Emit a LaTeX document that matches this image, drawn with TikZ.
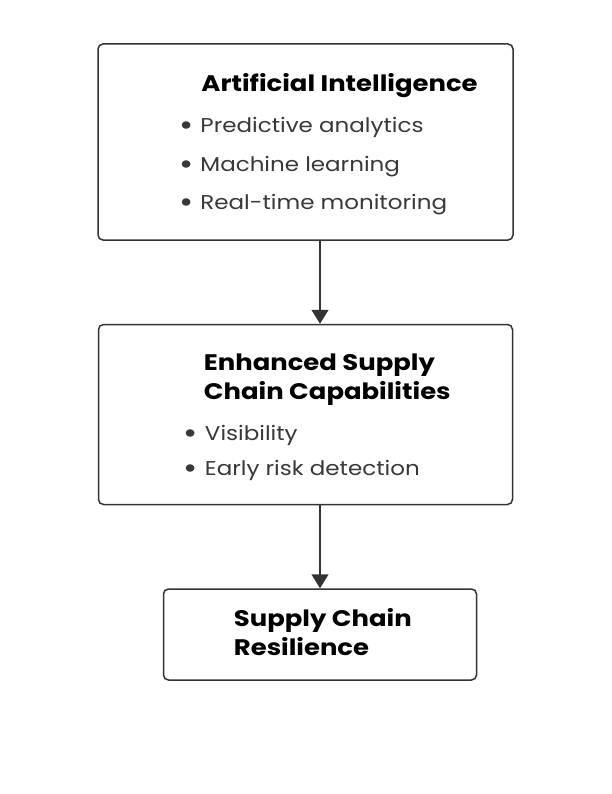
\documentclass[tikz,border=0pt]{standalone}
\usepackage{fontspec}
\setmainfont{Poppins}[FakeStretch=1.15]
\usepackage{tikz}
\usetikzlibrary{positioning, arrows.meta}
\definecolor{edgegrey}{HTML}{333333}
\definecolor{itemgrey}{HTML}{383838}
\newcommand{\itemdot}{\makebox[21pt][l]{\fontsize{30}{30}\selectfont\raisebox{-3pt}{•}}}

\begin{document}
\begin{tikzpicture}[x=1pt, y=1pt,
    box/.style={draw=edgegrey, line width=1.5pt, rounded corners=5pt, fill=white, inner sep=0pt},
    head/.style={anchor=base west, inner sep=0pt, font=\fontsize{22.5}{27}\selectfont\bfseries, text=black},
    item/.style={anchor=base west, inner sep=0pt, font=\fontsize{20}{24}\selectfont, text=itemgrey},
    arr/.style={draw=edgegrey, line width=1.5pt, -{Triangle[length=14pt, width=17pt]}}]
    \useasboundingbox[fill=white] (0,0) rectangle (612,-794);
    \node[box, minimum width=415pt, minimum height=196pt] (ai) at (305.5,-142) {};
    \node[box, minimum width=414pt, minimum height=180pt, below=83pt of ai] (ecc) {};
    \node[box, minimum width=313pt, minimum height=91pt, below=83pt of ecc, xshift=14.5pt] (res) {};
    \node[head] (aititle) at ([shift={(104,-48)}]ai.north west) {Artificial Intelligence};
    \node[item] (ai1) at ([shift={(82,-89)}]ai.north west) {\itemdot Predictive analytics};
    \node[item] (ai2) at ([shift={(82,-128)}]ai.north west) {\itemdot Machine learning};
    \node[item] (ai3) at ([shift={(82,-166)}]ai.north west) {\itemdot Real-time monitoring};
    \node[head] (ecctitle1) at ([shift={(106,-47)}]ecc.north west) {Enhanced Supply};
    \node[head] (ecctitle2) at ([shift={(106,-76)}]ecc.north west) {Chain Capabilities};
    \node[item] (ecc1) at ([shift={(86,-117)}]ecc.north west) {\itemdot Visibility};
    \node[item] (ecc2) at ([shift={(86,-152)}]ecc.north west) {\itemdot Early risk detection};
    \node[head] (restitle1) at ([shift={(71,-38)}]res.north west) {Supply Chain};
    \node[head] (restitle2) at ([shift={(71,-67)}]res.north west) {Resilience};
    \draw[arr] (ai.south -| res.center) -- (ecc.north -| res.center);
    \draw[arr] (ecc.south -| res.center) -- (res.north);
\end{tikzpicture}
\end{document}
